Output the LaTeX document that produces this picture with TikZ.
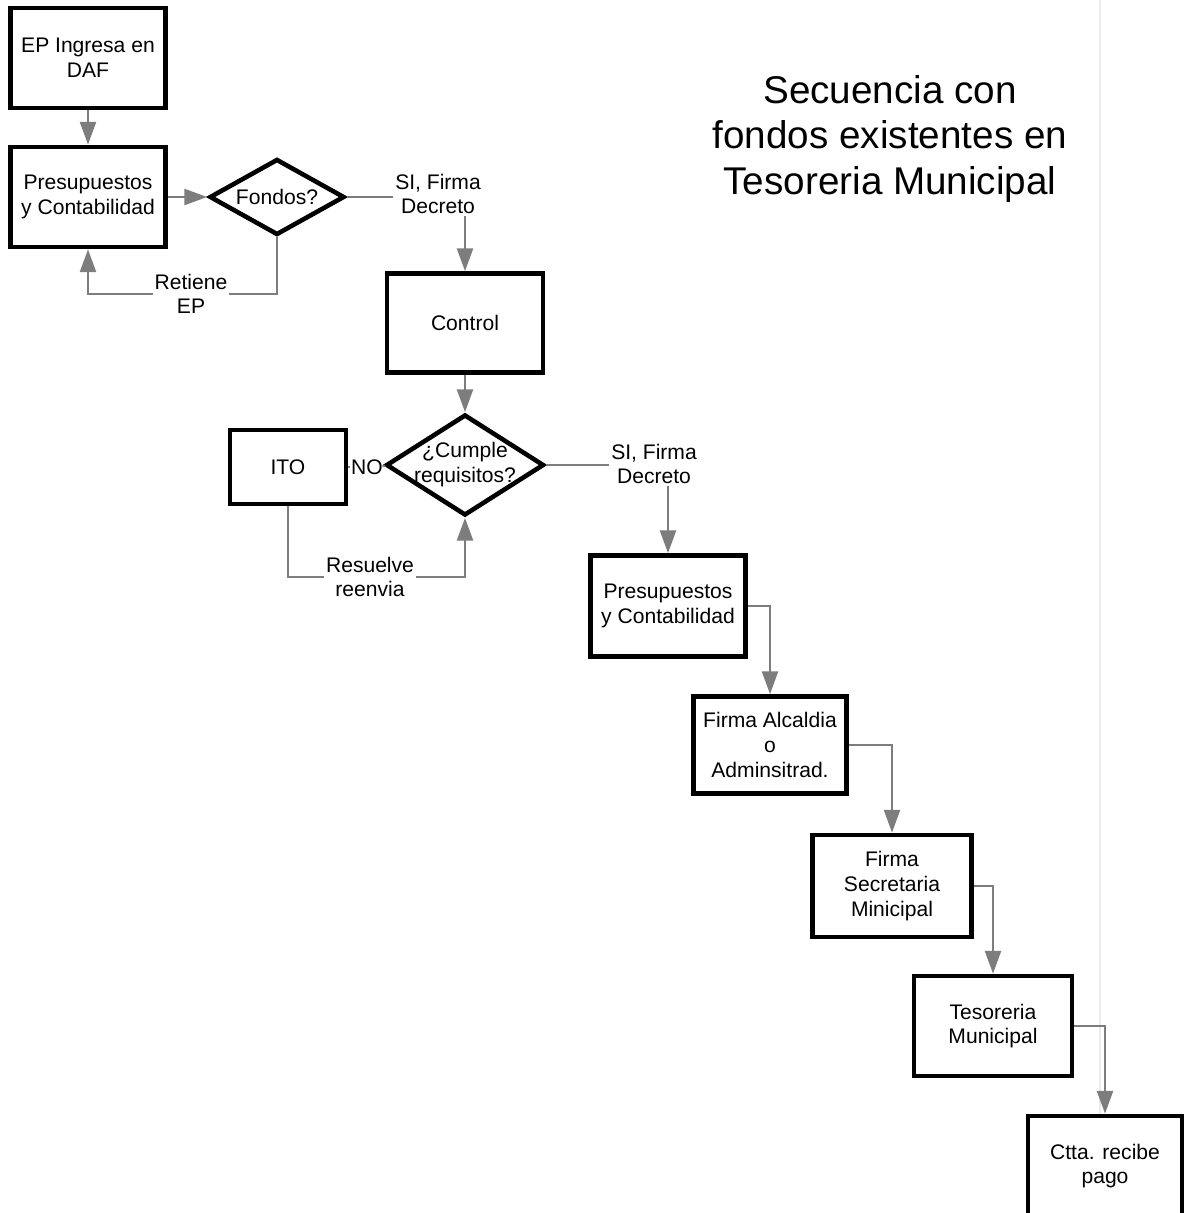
\documentclass[tikz,border=0pt]{standalone}
\usepackage{fontspec}
\setmainfont{Liberation Sans}
\usetikzlibrary{shapes.geometric,arrows.meta}
\definecolor{arrowgray}{RGB}{125,125,125}
\begin{document}
\begin{tikzpicture}[x=0.02cm,y=-0.02cm,
  box/.style={draw=black,line width=2.6pt,fill=white,align=center,font=\fontsize{12}{14}\selectfont,inner sep=2pt},
  dia/.style={draw=black,line width=2.6pt,shape=diamond,fill=white,inner sep=0pt,font=\fontsize{12}{14}\selectfont},
  lab/.style={align=center,font=\fontsize{12}{14}\selectfont,inner sep=1pt},
  conn/.style={draw=arrowgray,line width=1.6pt},
  arr/.style={conn,-{Triangle[width=9pt,length=13pt]}},
]
\useasboundingbox (0,0) rectangle (1186,1213);
\fill[white] (0,0) rectangle (1186,1213);
\draw[gray!15,line width=0.6pt] (1100,0) -- (1100,1213);

% title
\node[align=center,font=\fontsize{22}{26}\selectfont] (title) at (890,139) {Secuencia con\\fondos existentes en\\Tesoreria Municipal};

% nodes
\node[box,minimum width=3.1cm,minimum height=2.0cm] (ep) at (88,58) {EP Ingresa en\\DAF};
\node[box,minimum width=3.1cm,minimum height=2.0cm] (pc1) at (88,197) {Presupuestos\\y Contabilidad};
\node[dia,minimum width=2.7cm,minimum height=1.52cm] (fondos) at (277,197) {\makebox[0pt]{Fondos?}};
\node[lab] (si1) at (438,194) {SI, Firma\\Decreto};
\node[lab] (ret) at (191,294) {Retiene\\EP};
\node[box,minimum width=3.12cm,minimum height=1.98cm] (control) at (465,323) {Control};
\node[dia,minimum width=3.16cm,minimum height=2.02cm] (cumple) at (465,465) {\makebox[0pt]{\begin{tabular}{@{}c@{}}¿Cumple\\requisitos?\end{tabular}}};
\node[box,minimum width=2.32cm,minimum height=1.48cm] (ito) at (288,467) {ITO};
\node[lab,inner sep=0.5pt] (no) at (367,467) {NO};
\node[lab] (res) at (370,577) {Resuelve\\reenvia};
\node[lab] (si2) at (654,464) {SI, Firma\\Decreto};
\node[box,minimum width=3.1cm,minimum height=2.02cm] (pc2) at (668,606) {Presupuestos\\y Contabilidad};
\node[box,minimum width=3.06cm,minimum height=1.94cm] (alc) at (770,745) {Firma Alcaldia\\o\\Adminsitrad.};
\node[box,minimum width=3.18cm,minimum height=2.04cm] (sec) at (892,886) {Firma\\Secretaria\\Minicipal};
\node[box,minimum width=3.16cm,minimum height=2.0cm] (tes) at (993,1026) {Tesoreria\\Municipal};
\node[box,minimum width=3.08cm,minimum height=2.0cm] (ctta) at (1105,1166) {Ctta. recibe\\pago};

% connectors
\draw[arr] (ep.south) -- (pc1.north);
\draw[arr] (pc1.east) -- (fondos.west);
\draw[conn] (fondos.east) -- (fondos.east -| si1.west);
\draw[arr] (control.north |- si1.south) -- (control.north);
\draw[conn] (fondos.south) |- (ret.east);
\draw[arr] (ret.west) -| (pc1.south);
\draw[arr] (control.south) -- (cumple.north);
\draw[conn] (ito.east) -- (no.west);
\draw[conn] (no.east) -- (cumple.west);
\draw[conn] (ito.south) |- (res.west);
\draw[arr] (res.east) -| (cumple.south);
\draw[conn] (cumple.east) -- (cumple.east -| si2.west);
\draw[arr] (pc2.north |- si2.south) -- (pc2.north);
\draw[arr] (pc2.east) -| (alc.north);
\draw[arr] (alc.east) -| (sec.north);
\draw[arr] (sec.east) -| (tes.north);
\draw[arr] (tes.east) -| (ctta.north);
\end{tikzpicture}
\end{document}
